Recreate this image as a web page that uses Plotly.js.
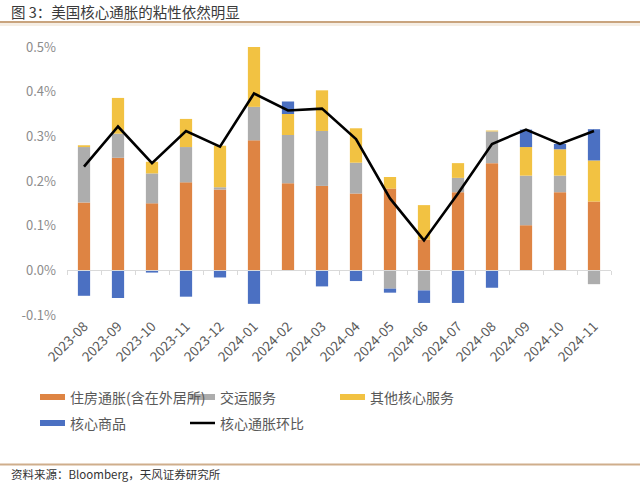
<!DOCTYPE html>
<html>
<head>
<meta charset="utf-8">
<script src="https://cdn.plot.ly/plotly-3.0.1.min.js"></script>
<style>
html,body{margin:0;padding:0;background:#fff;}
#chart{width:640px;height:483px;}
</style>
</head>
<body>
<div id="chart"></div>
<script>
const months = ["2023-08","2023-09","2023-10","2023-11","2023-12","2024-01","2024-02","2024-03","2024-04","2024-05","2024-06","2024-07","2024-08","2024-09","2024-10","2024-11"];
const housing   = [0.152,0.252,0.150,0.197,0.181,0.291,0.195,0.189,0.172,0.183,0.069,0.175,0.240,0.101,0.175,0.154];
const transport = [0.124,0.054,0.067,0.079,0.005,0.075,0.108,0.123,0.069,-0.041,-0.045,0.032,0.071,0.111,0.037,-0.031];
const otherSvc  = [0.004,0.080,0.026,0.063,0.093,0.138,0.047,0.091,0.077,0.026,0.077,0.033,0.002,0.064,0.059,0.092];
const goods     = [-0.057,-0.062,-0.005,-0.059,-0.016,-0.075,0.028,-0.036,-0.024,-0.009,-0.028,-0.073,-0.039,0.039,0.012,0.070];
const coreMoM   = [0.232,0.322,0.240,0.312,0.277,0.396,0.358,0.362,0.294,0.161,0.067,0.172,0.283,0.315,0.283,0.312];

const seriesNames = ["住房通胀(含在外居所)","交运服务","其他核心服务","核心商品","核心通胀环比"];
const colors = ["#DE8443","#ADADAD","#F2C242","#4B70C2","#000000"];
const yTicks = [-0.1,0,0.1,0.2,0.3,0.4,0.5];
const yTickText = yTicks.map(v => v.toFixed(1) + '%');

const font = '"Noto Sans CJK SC","Noto Sans",sans-serif';
const barData = [housing, transport, otherSvc, goods];
const traces = barData.map((d,i)=>({
  type:'bar', x:months, y:d, name:seriesNames[i],
  marker:{color:colors[i], line:{width:0}}, cliponaxis:false,
  hoverinfo:'skip', showlegend:false
}));
traces.push({
  type:'scatter', mode:'lines', x:months, y:coreMoM, name:seriesNames[4],
  line:{color:colors[4], width:2.6}, cliponaxis:false, showlegend:false
});

// boundary ticks along the zero line
const boundaries = [];
for (let i=0;i<=months.length;i++) boundaries.push(i-0.5);

// custom legend
const L = {l:67, r:29, t:47, b:168};
const W = 640, H = 483;
const pw = W - L.l - L.r, ph = H - L.t - L.b;
const px = x => (x - L.l)/pw;
const py = y => (H - L.b - y)/ph;
const legendPos = [[40,397],[190,397],[340,397],[40,423],[190,423]];
const shapes = [];
const annotations = [];
legendPos.forEach((p,i)=>{
  if (i<4) {
    shapes.push({type:'rect', xref:'paper', yref:'paper', x0:px(p[0]), x1:px(p[0]+25), y0:py(p[1]+3), y1:py(p[1]-3), fillcolor:colors[i], line:{width:0}});
  } else {
    shapes.push({type:'line', xref:'paper', yref:'paper', x0:px(p[0]), x1:px(p[0]+25), y0:py(p[1]), y1:py(p[1]), line:{color:colors[i], width:2.5}});
  }
  annotations.push({xref:'paper', yref:'paper', x:px(p[0]+28), y:py(p[1]), xanchor:'left', yanchor:'middle', showarrow:false, text:seriesNames[i], font:{family:font, size:14, color:'#595959'}});
});
// title & footer
annotations.push({xref:'paper', yref:'paper', x:px(9), y:py(11), xanchor:'left', yanchor:'middle', showarrow:false, text:'图 3：美国核心通胀的粘性依然明显', font:{family:font, size:14.5, color:'#3a3a3a'}});
annotations.push({xref:'paper', yref:'paper', x:px(9), y:py(474), xanchor:'left', yanchor:'middle', showarrow:false, text:'资料来源：Bloomberg，天风证券研究所', font:{family:font, size:11.5, color:'#333333'}});
shapes.push({type:'line', xref:'paper', yref:'paper', x0:px(0), x1:px(640), y0:py(22), y1:py(22), line:{color:'#C9A47E', width:2}});
shapes.push({type:'rect', xref:'paper', yref:'paper', x0:px(0), x1:px(640), y0:py(23), y1:py(26), fillcolor:'#F6EEE4', line:{width:0}, layer:'below'});
shapes.push({type:'line', xref:'paper', yref:'paper', x0:px(0), x1:px(640), y0:py(464.5), y1:py(464.5), line:{color:'#CFAE8C', width:2}});

const layout = {
  width:W, height:H,
  margin:{l:L.l, r:L.r, t:L.t, b:L.b, pad:0},
  paper_bgcolor:'#ffffff', plot_bgcolor:'#ffffff',
  barmode:'relative', bargap:0.64,
  showlegend:false,
  font:{family:font},
  xaxis:{type:'category', categoryarray:months, tickangle:-45, showgrid:false, zeroline:false, showline:false,
    ticks:'', tickfont:{family:font, size:13.5, color:'#595959'}, range:[-0.5, months.length-0.5]},
  xaxis2:{overlaying:'x', anchor:'free', position:1/6, range:[-0.5, months.length-0.5], tickvals:boundaries,
    showticklabels:false, ticks:'outside', ticklen:4, tickcolor:'#D9D9D9', showline:true, linecolor:'#D9D9D9', linewidth:1,
    showgrid:false, zeroline:false},
  yaxis:{range:[-0.1,0.5], tickvals:yTicks, ticktext:yTickText, showgrid:false, zeroline:false, showline:false,
    ticks:'', ticklabelstandoff:10, tickfont:{family:font, size:13, color:'#8C8C8C'}},
  shapes:shapes, annotations:annotations
};
// invisible trace to activate xaxis2
traces.push({type:'scatter', x:[0], y:[0], xaxis:'x2', mode:'markers', marker:{opacity:0}, hoverinfo:'skip', showlegend:false});

Plotly.newPlot('chart', traces, layout, {displayModeBar:false, staticPlot:true});
</script>
</body>
</html>
